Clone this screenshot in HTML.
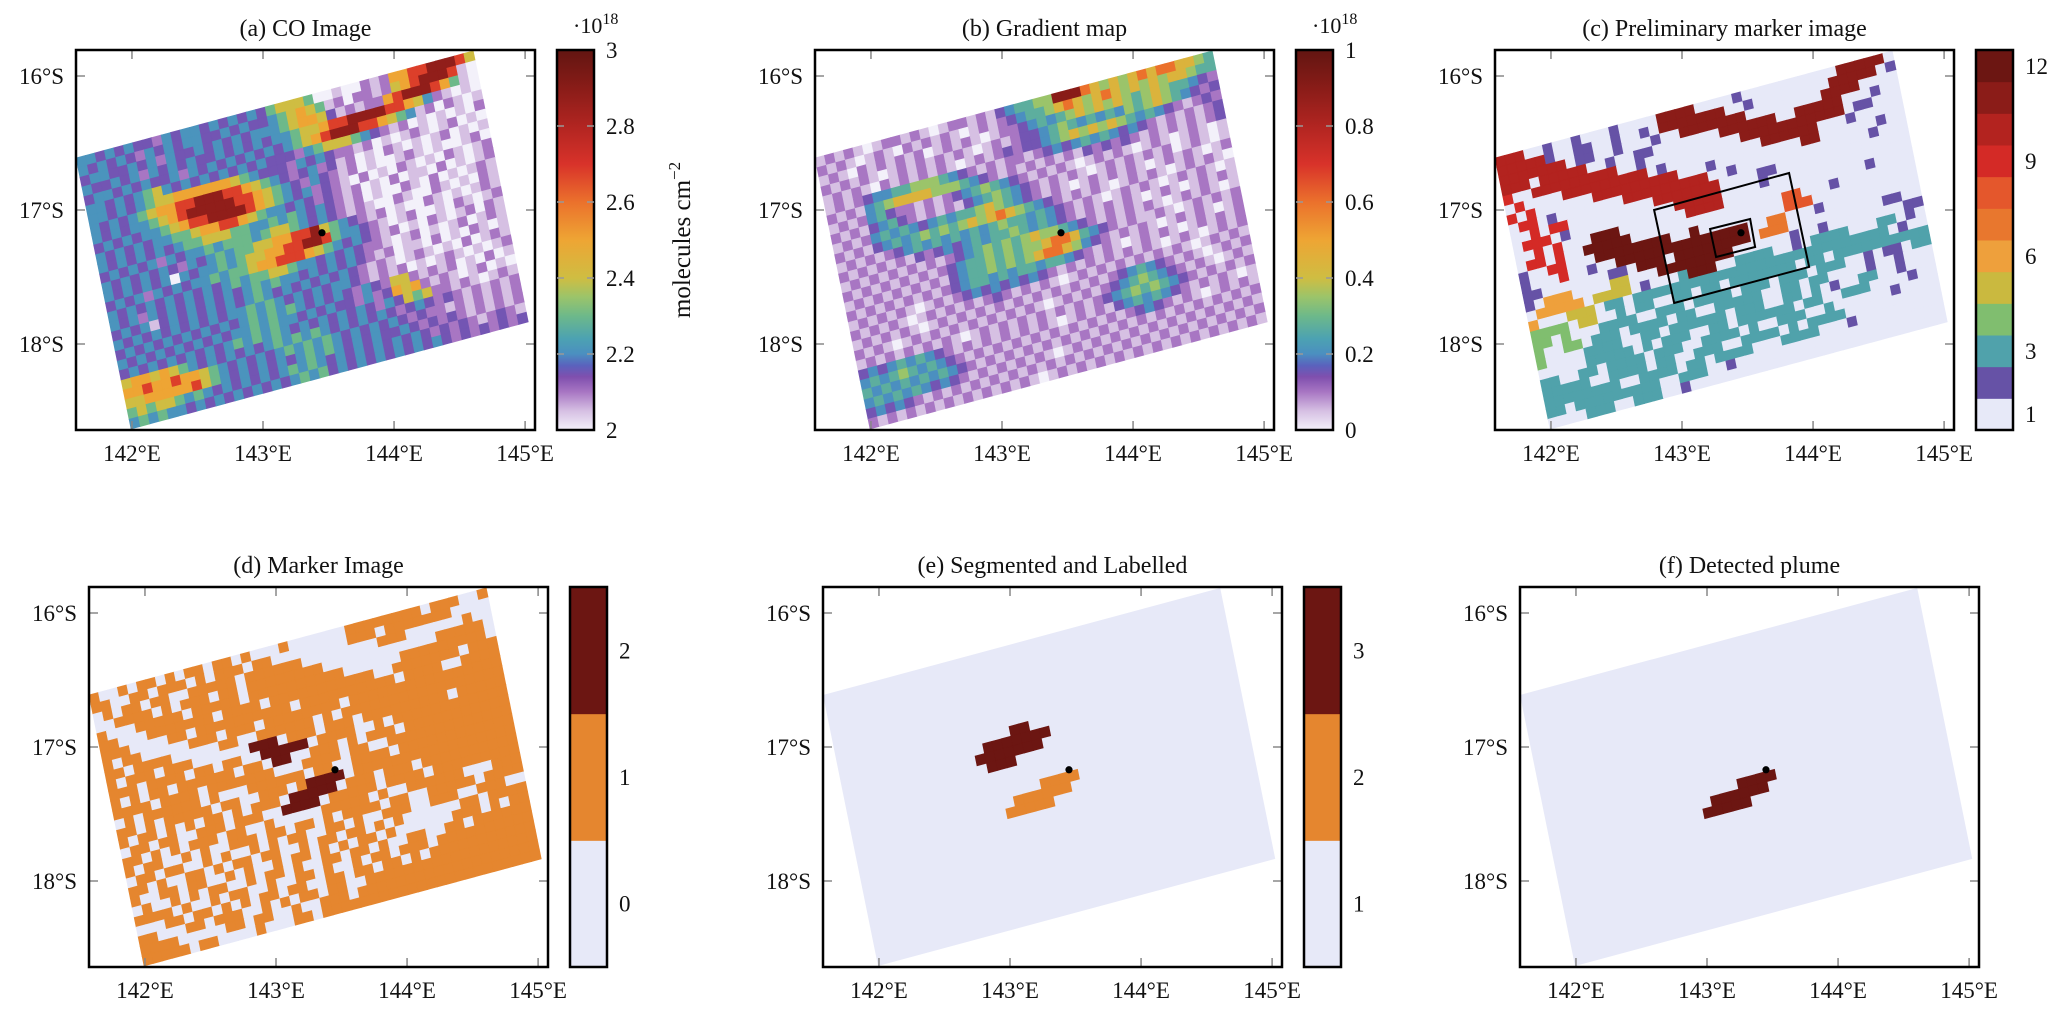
<!DOCTYPE html>
<html>
<head>
<meta charset="utf-8">
<style>
  html, body { margin: 0; padding: 0; background: #ffffff; }
  svg { display: block; }
  text { font-family: "Liberation Serif", serif; fill: #111; }
</style>
</head>
<body>
<svg id="fig" width="2067" height="1013" viewBox="0 0 2067 1013" xmlns="http://www.w3.org/2000/svg"></svg>
<script>
// ---------------- DATA ----------------
const lonTicks = [142, 143, 144, 145];
const latTicks = [16, 17, 18];
const sourceLon = 143.45;
const sourceLat = 17.17;

// (a) CO image: code digit -> column value (x1e18 molecules cm^-2)
const coLevels = [2.0, 2.05, 2.1, 2.15, 2.21, 2.3, 2.4, 2.5, 2.68, 2.88];
const coTicks = [2, 2.2, 2.4, 2.6, 2.8, 3];
const coTickLabels = ["2", "2.2", "2.4", "2.6", "2.8", "3"];
const coRows = [
"44343433243443434343"+"56665"+"0010021"+"27788"+"9998"+"6",
"43434324343443343433"+"456765"+"1202212"+"678"+"9998"+"10",
"34433434243343434344"+"45677"+"6312122"+"7899"+"987"+"510",
"43343424343433434343"+"4456"+"67889"+"9998"+"87"+"6421010",
"34434343342434343434"+"345"+"6789998"+"8765"+"41202101",
"443434"+"56"+"434343434343"+"33245"+"66654"+"321201010102",
"44343"+"4566777"+"7776543"+"3"+"3243432"+"212010121012"+"010",
"4343"+"45677889"+"9988765"+"4"+"323423"+"1201021010120101",
"43434"+"456789"+"99998876"+"5"+"43243"+"21201001210100120",
"343434"+"45678"+"899998"+"765"+"43423"+"21020102101021012",
"4343434"+"4556"+"778876"+"5443"+"43232"+"1201020110201012",
"43434343"+"45566"+"6554"+"4545"+"4343"+"2"+"1201002102010121",
"343434243"+"445455"+"5456"+"6543"+"432"+"1210021002101021",
"4343434324"+"3454"+"556677"+"889"+"65"+"432"+"12010021010121",
"43434340434"+"454"+"5667788"+"998"+"54"+"4321012001021012",
"3434243434"+"4545"+"56778"+"8876"+"54"+"34"+"321201021012021",
"43434343434"+"3454"+"5566"+"54"+"4343"+"43"+"221012010120121",
"4342434343434"+"34545"+"4434343"+"4"+"3212011020102101",
"34341343434"+"343454"+"34343434"+"32"+"121012101020121",
"4343434343434"+"4545"+"4343434"+"432"+"121201012101012",
"343434343434"+"3454545"+"43434"+"3243"+"2"+"66"+"21212010201",
"4343434343434"+"45454"+"434343"+"3242"+"3"+"767"+"2121012010",
"34343434343"+"4545454"+"343434"+"3432"+"43"+"656"+"221210121",
"6776"+"7654"+"3434343"+"454545"+"43434"+"3432"+"343"+"232121212",
"7787"+"7877"+"6543"+"4343454"+"5454"+"3434"+"343232"+"212121212",
"6677"+"7778"+"654"+"3434343"+"4545"+"434343"+"34323"+"232121212",
"5656"+"6545"+"4343434"+"345454"+"34343"+"43434"+"32323212321",
"4545"+"4434"+"3434343"+"434545"+"34343"+"43434"+"34323232323"
];

// (b) Gradient map
const gradLevels = [0, 0.05, 0.1, 0.15, 0.2, 0.27, 0.35, 0.44, 0.6, 0.9];
const gradTicks = [0, 0.2, 0.4, 0.6, 0.8, 1];
const gradTickLabels = ["0", "0.2", "0.4", "0.6", "0.8", "1"];
const gradRows = [
"12121012212101221213"+"45"+"5669998"+"7676787"+"887765",
"21210121021212101212"+"34"+"556787"+"6787676"+"7677655",
"12102121212012121012"+"23"+"45456"+"767676"+"56765"+"5432",
"21212101212121210121"+"23"+"34565"+"45454"+"65676"+"54323",
"12121021212121012123"+"23"+"3456"+"76767"+"654"+"54321232",
"1212"+"3445566"+"65432"+"1212"+"21"+"23434"+"5454"+"3432121"+"2123",
"2121"+"45"+"677776"+"6654"+"3212"+"1212"+"1213"+"2323212"+"1212123",
"1212"+"4"+"5"+"322121"+"2345"+"65"+"43"+"212121"+"012121"+"0121012101",
"21213"+"45"+"3212"+"121"+"3456"+"543"+"2121"+"2101212"+"1212012101",
"12124"+"545"+"43"+"4545"+"5676"+"543"+"2121"+"0121212"+"1012121012",
"2121"+"3454"+"5656"+"56767"+"8765"+"4321"+"2121012"+"1210121210",
"1212"+"123"+"4545"+"4545"+"4565"+"5454"+"3212"+"10121"+"2101212101",
"21212"+"1213"+"2343"+"4545"+"5654"+"543"+"212"+"12121"+"0121012121",
"121212"+"1212"+"1234"+"5656"+"5676"+"654"+"3212"+"121"+"2101212101",
"212121"+"2121"+"2345"+"5656"+"5667"+"887"+"543"+"2121"+"1210121212",
"121212"+"1212"+"1345"+"5656"+"5678"+"876"+"4321"+"212"+"1012121012",
"212121"+"2121"+"2345"+"5454"+"5545"+"543"+"2121"+"012"+"1210121212",
"121212"+"1012"+"1234"+"3434"+"3432"+"121"+"2121"+"212"+"1012101212",
"2121210121"+"212123"+"2121"+"2101"+"2121"+"21212"+"121012121",
"1212121012"+"121212"+"1212"+"1212"+"1212"+"34543"+"212101212",
"2121012121"+"212121"+"2121"+"0121"+"2123"+"45654"+"321210121",
"1212121212"+"101212"+"1212"+"1212"+"1234"+"56565"+"432121212",
"3434"+"545"+"4321"+"21212"+"1212"+"1012"+"1213"+"45454"+"321212101",
"4545"+"654"+"5432"+"12121"+"2121"+"2121"+"2121"+"23432"+"121012121",
"5454"+"545"+"4543"+"21212"+"1212"+"1212"+"1212"+"12121"+"212121212",
"4545"+"454"+"3432"+"12121"+"2121"+"0121"+"2121"+"21212"+"121212121",
"3434"+"321"+"2121"+"21212"+"1212"+"1212"+"1212"+"12121"+"212121212",
"2121"+"212"+"1212"+"12121"+"2101"+"2121"+"2121"+"21212"+"121212121"
];

// (c) Preliminary markers: char -> marker label (1..12)
const prelimKeys = ".ptgyoOrRbBD";
const prelimTickValues = [12, 9, 6, 3, 1];
const prelimRows = [
"bbb"+"..p..p...p...."+"BBBB."+"...p........"+"..BBBBB.",
"bbbbb"+"p..pp..p..p."+"BBBBBBB"+"..p......."+".BBBBB.p",
"bbbbbbb"+".pp..p...p"+"..BBBBBBB"+"........"+"BBBB....",
"bbb.bbbbb"+"..p..pp."+"......BBBBBB"+"..BBBBB"+"...p..",
"R..bbbbbbbbb"+"..p.."+"........"+"BBBBBBBBBBB"+".pp...",
".R....bbbbbbbbb"+".p"+"..........BBBBBB"+"...p.....",
"R.R......bbbbbbbbb"+"...p........."+"BB"+"......p..",
".RR.p.......bbbbbbbbb"+"..p...."+"..........p...",
"..R.RR.........bbbbbbb"+"....pp."+".............",
".RRR.p...........bbbbb"+"....p..."+"............",
"..R.R...DDD"+".......bbbb"+"......"+".........p....",
".RR.R..DDDDD"+"........"+"........rr"+"...p........",
"p..RR...DDDDDDDD"+"..D....."+"....rrr"+"...........",
"p...R..p..DDDDDDDDD"+"DDDDD"+"..OO"+"...p..........",
"pp.......pp.DDD.DDDDDDDD"+".OOO"+"..........pp..",
"p.ooo....yy...DDDDDDDD"+"......"+"p..p........pp",
".ooooo.yyyy.p...tDDD..tt"+"tt..p.tttt"+"...tt.p.",
"o...yyy.tt.ttttttttttttt"+"tttttttttttt"+"tt.p..",
"gggg.yy..t.tt..tt.tt.tt"+"ttttt.tt.tttttttttt",
"gg.g...tttt..ttt.tttt.t"+"tt.ttt.ttt..p.pp.tt",
"g..gg.ttt.tttt.tt..ttttt"+"..tt.tt....p..p...",
"g....tttt..tt.tttttt.tt"+"t..tt.t.p..tt..p...",
".....ttttt.t.ttt..tt.tt"+"tttt.tt..ttt....p..",
"tt..tt.tttt.ttt..tttt.t"+"..ttt..t......p....",
"ttttt..tttt.tt..ttt..tt"+"tt.t.tttt..........",
"tttttttt..tttt.tt.tttt."+"..tttt...p.........",
"tt.ttttttttt..ttt..p..."+"...................",
"....ttt..ttt..p........"+"..................."
];

// (d) Marker image: '.'=0, 'o'=1, 'D'=2
const markerKeys = ".oD";
const markerTickValues = [2, 1, 0];
const markerRows = [
"o..o.oo.o.oo.oo.o"+"...o......"+"oooooooo.ooo..o",
"oo..oo.ooo.o.ooo.oo"+"........"+"ooo.ooooo"+"oo....",
".o.oo.oo..ooooo.oooo"+"oo......"+"..ooo"+"......o..",
"..oooo.o.ooo.oo.oooo"+"oooo...."+"........"+"ooooo.",
"o...ooooo.ooooo.ooooooo"+"ooo..."+"...ooooooooo.",
"oo...ooooooo.oooo.oooo"+"ooooooo..oo"+"ooooo.ooo",
"ooo....oo.oooooooooo.o"+"ooooooooo.o"+"ooo..oooo",
"o.oo.....ooo.ooo.oooo"+"oooo.ooooooo"+"ooooooooo",
"oo.oooo.....oo..oooo"+"oo.o.ooooooo"+"oooooooooo",
"o.ooo.ooo......DDD.oo"+"o.ooo.oooooo"+"ooo.ooooo",
"ooo.oooo.oo.oo..DDDDD."+"oooo..o.oooo"+"oooooooo",
"o.o.oo.oooooo.oo.DD..oo"+"o.o.ooo.oooo"+"ooooooo",
"oooo.oooo.ooooooo...o"+"ooo.oo..ooooo"+"oooooooo",
".o.oooooo.o...oooooo.oo"+"..oooo.oooo"+"oooooooo",
"oo.o.ooooo.oo..ooo.oDDDD."+"ooooooooo"+"oooooooo",
"o.oo.o.o.oo.o.ooo.DDDDD.o"+"oo.ooo.oo"+"oooooooo",
".oo.oo..ooo.ooo..DDDD.oo"+"ooo.oooo.oo"+"ooooooo",
"oo.o.o.ooo.oo..o.....ooo"+"oo.o..oooo"+"oo...ooo",
"o.oo..o.o..ooo.oo.oo.o.o"+"ooo.oo..oo"+"ooo.oooo",
".oo.oo..o.o..o.o.oo..oo."+"o..ooo..oo"+"o..ooo..",
"oo.o..oo.o.oo.oo..o.oo.o"+"o.o.o....."+".oo.oooo",
"o..oo.oo..o.o..o.oo.o.o."+"oo.o......"+"ooo.o.oo",
".o..o.o.oo..o.oo.o..oo.o"+"o.o..oo..o"+"o.oooooo",
"oooo.o..o.oo..o..oo.o..o"+".oo.ooo.oo"+"oooooooo",
"...oo.oo.o.o.oo.oo..oo.o"+"o.oo.o.ooo"+"oooooooo",
"oo...oo.ooo..o.o.oo.oo.."+"oooooooooo"+"oooooooo",
"oooo.....oo.oo..o..ooo.o"+"oooooooooo"+"oooooooo",
"ooooo.oo....o...oo.ooooo"+"oooooooooo"+"oooooooo"
];

// (e) Segmented & labelled: [row, colStart, colEnd, label]; background label = 1
const segmentRuns = [[8,18,19,3],[9,15,21,3],[10,14,20,3],[11,15,17,3],
                     [14,20,23,2],[15,17,22,2],[16,16,20,2]];
const segTickValues = [3, 2, 1];
// (f) Detected plume: [row, colStart, colEnd]
const plumeRuns = [[14,20,23],[15,17,22],[16,16,20]];

// ---------------- GEOMETRY / STYLE ----------------
const GEO = {lon0: 141.573, lat0: 15.806, pxLon: 131.05, pxLat: 134, w: 459, h: 380};
const SW_TL = [141.573, 16.612], SW_TR = [144.604, 15.813], SW_BL = [141.993, 18.634];
const NC = 42, NR = 28;
const cmapStops = [[0,'#f3f1fa'],[0.05,'#d6c0e3'],[0.1,'#a876c3'],[0.14,'#7f4fae'],[0.17,'#5a62bd'],
  [0.2,'#4b8fc0'],[0.24,'#4ca2b2'],[0.3,'#6db98a'],[0.35,'#9bc46a'],[0.4,'#cfbd42'],[0.5,'#eea534'],
  [0.6,'#eb712c'],[0.7,'#d8322a'],[0.8,'#b12521'],[0.9,'#891c18'],[1,'#621511']];
const prelimColors = ['#e7e9f8','#6652a6','#50a2ab','#80be6f','#cab93f','#eea03c','#e8772e','#e4572c','#d42a26','#b3231f','#8b1c18','#6c1612'];
const markerColors = ['#e7e9f8','#e5862f','#6c1612'];
const segColors = ['#e7e9f8','#e5862f','#6c1612'];

const NS = 'http://www.w3.org/2000/svg';
const svg = document.getElementById('fig');
function mk(tag, attrs, parent) {
  const e = document.createElementNS(NS, tag);
  for (const k in attrs) e.setAttribute(k, attrs[k]);
  parent.appendChild(e);
  return e;
}
function hex2rgb(h){return [parseInt(h.slice(1,3),16),parseInt(h.slice(3,5),16),parseInt(h.slice(5,7),16)];}
function cmap(t){
  t=Math.max(0,Math.min(1,t));
  for(let i=1;i<cmapStops.length;i++){
    if(t<=cmapStops[i][0]){
      const a=cmapStops[i-1],b=cmapStops[i];const f=(t-a[0])/(b[0]-a[0]);
      const A=hex2rgb(a[1]),B=hex2rgb(b[1]);
      return 'rgb('+A.map((v,k)=>Math.round(v+(B[k]-v)*f)).join(',')+')';
    }
  }
  return cmapStops[cmapStops.length-1][1];
}
const xS = (p, lon) => p.left + (lon - GEO.lon0) * GEO.pxLon;
const yS = (p, lat) => p.top + (lat - GEO.lat0) * GEO.pxLat;
function swathPt(p, u, v) {
  const lon = SW_TL[0] + u*(SW_TR[0]-SW_TL[0]) + v*(SW_BL[0]-SW_TL[0]);
  const lat = SW_TL[1] + u*(SW_TR[1]-SW_TL[1]) + v*(SW_BL[1]-SW_TL[1]);
  return xS(p, lon).toFixed(2) + ',' + yS(p, lat).toFixed(2);
}
function cellPts(p, r, c) {
  return [swathPt(p,c/NC,r/NR), swathPt(p,(c+1)/NC,r/NR), swathPt(p,(c+1)/NC,(r+1)/NR), swathPt(p,c/NC,(r+1)/NR)].join(' ');
}
function drawCell(g, p, r, c, color) {
  const poly = mk('polygon', {points: cellPts(p, r, c), fill: color, stroke: color, 'stroke-width': 0.7}, g);
  
  
}
function drawRows(g, p, rows, colorOf) {
  rows.forEach((row, r) => {
    for (let c = 0; c < row.length && c < NC; c++) drawCell(g, p, r, c, colorOf(row[c]));
  });
}

const panels = [
  {key:'a', left:76,   top:50,  title:'(a) CO Image', name:'co-image-panel'},
  {key:'b', left:815,  top:50,  title:'(b) Gradient map', name:'gradient-map-panel'},
  {key:'c', left:1495, top:50,  title:'(c) Preliminary marker image', name:'preliminary-marker-panel'},
  {key:'d', left:89,   top:587, title:'(d) Marker Image', name:'marker-image-panel'},
  {key:'e', left:823,  top:587, title:'(e) Segmented and Labelled', name:'segmented-panel'},
  {key:'f', left:1520, top:587, title:'(f) Detected plume', name:'detected-plume-panel'}
];

function drawPanel(p) {
  const g = mk('g', {}, svg);
  
  
  const clipId = 'clip-' + p.key;
  const cp = mk('clipPath', {id: clipId}, g);
  mk('rect', {x: p.left, y: p.top, width: GEO.w, height: GEO.h}, cp);
  const plot = mk('g', {'clip-path': 'url(#' + clipId + ')'}, g);
  
  

  if (p.key === 'a') drawRows(plot, p, coRows, ch => cmap((coLevels[+ch] - 2) / 1));
  if (p.key === 'b') drawRows(plot, p, gradRows, ch => cmap(gradLevels[+ch]));
  if (p.key === 'c') drawRows(plot, p, prelimRows, ch => prelimColors[Math.max(0, prelimKeys.indexOf(ch))]);
  if (p.key === 'd') drawRows(plot, p, markerRows, ch => markerColors[Math.max(0, markerKeys.indexOf(ch))]);
  if (p.key === 'e' || p.key === 'f') {
    const bg = mk('polygon', {points: [swathPt(p,0,0), swathPt(p,1,0), swathPt(p,1,1), swathPt(p,0,1)].join(' '), fill: segColors[0]}, plot);
    
    
    if (p.key === 'e') {
      segmentRuns.forEach(run => { for (let c = run[1]; c <= run[2]; c++) drawCell(plot, p, run[0], c, segColors[run[3]-1]); });
    } else {
      plumeRuns.forEach(run => { for (let c = run[1]; c <= run[2]; c++) drawCell(plot, p, run[0], c, segColors[2]); });
    }
  }
  if (p.key === 'c') {
    const outer = [[142.787,17.0],[143.817,16.724],[143.97,17.425],[142.94,17.694]];
    const inner = [[143.214,17.142],[143.52,17.067],[143.558,17.276],[143.26,17.351]];
    const o = mk('polygon', {points: outer.map(q => xS(p,q[0])+','+yS(p,q[1])).join(' '), fill:'none', stroke:'#000', 'stroke-width':2}, plot);
    
    
    const i = mk('polygon', {points: inner.map(q => xS(p,q[0])+','+yS(p,q[1])).join(' '), fill:'none', stroke:'#000', 'stroke-width':2}, plot);
    
    
  }
  // source dot
  const dot = mk('circle', {cx: xS(p, sourceLon), cy: yS(p, sourceLat), r: 3.6, fill: '#000'}, plot);
  
  

  // ticks
  lonTicks.forEach(lon => {
    const x = xS(p, lon);
    const t1 = mk('line', {x1:x, y1:p.top, x2:x, y2:p.top+9, stroke:'#888', 'stroke-width':1.5}, g);
    
    
    const t2 = mk('line', {x1:x, y1:p.top+GEO.h, x2:x, y2:p.top+GEO.h-9, stroke:'#888', 'stroke-width':1.5}, g);
    
    
    const lb = mk('text', {x:x, y:p.top+GEO.h+31, 'font-size':23, 'text-anchor':'middle'}, g);
    lb.textContent = lon + '°E';
    
    
  });
  latTicks.forEach(lat => {
    const y = yS(p, lat);
    const t1 = mk('line', {x1:p.left, y1:y, x2:p.left+9, y2:y, stroke:'#888', 'stroke-width':1.5}, g);
    
    
    const t2 = mk('line', {x1:p.left+GEO.w, y1:y, x2:p.left+GEO.w-9, y2:y, stroke:'#888', 'stroke-width':1.5}, g);
    
    
    const lb = mk('text', {x:p.left-12, y:y+8, 'font-size':23, 'text-anchor':'end'}, g);
    lb.textContent = lat + '°S';
    
    
  });
  const box = mk('rect', {x:p.left, y:p.top, width:GEO.w, height:GEO.h, fill:'none', stroke:'#000', 'stroke-width':2.5}, g);
  
  
  const tt = mk('text', {x:p.left+GEO.w/2, y:p.top-14, 'font-size':24, 'text-anchor':'middle'}, g);
  tt.textContent = p.title;
  
  
}

function contColorbar(p, ticks, labels, vmin, vmax, gid) {
  const x = p.left + GEO.w + 22, w = 37, top = p.top, h = GEO.h;
  const g = mk('g', {}, svg);
  
  
  const defs = mk('defs', {}, g);
  const lg = mk('linearGradient', {id: gid, x1:0, y1:1, x2:0, y2:0}, defs);
  cmapStops.forEach(s => mk('stop', {offset: s[0], 'stop-color': s[1]}, lg));
  const r = mk('rect', {x:x, y:top, width:w, height:h, fill:'url(#'+gid+')', stroke:'#000', 'stroke-width':2.5}, g);
  
  
  ticks.forEach((v, i) => {
    const y = top + h - (v - vmin) / (vmax - vmin) * h;
    if (i > 0 && i < ticks.length - 1) {
      mk('line', {x1:x, y1:y, x2:x+7, y2:y, stroke:'#999', 'stroke-width':1.5}, g);
      mk('line', {x1:x+w, y1:y, x2:x+w-7, y2:y, stroke:'#999', 'stroke-width':1.5}, g);
    }
    const t = mk('text', {x:x+w+12, y:y+8, 'font-size':23}, g);
    t.textContent = labels[i];
    
    
  });
  const ex = mk('text', {x:x+16, y:top-17, 'font-size':22}, g);
  ex.textContent = '·10';
  
  
  const sup = mk('tspan', {dy:-9, 'font-size':16}, ex);
  sup.textContent = '18';
}

function discColorbar(p, colors, tickValues, firstValue) {
  const x = p.left + GEO.w + 22, w = 37, top = p.top, h = GEO.h;
  const g = mk('g', {}, svg);
  
  
  const n = colors.length, bh = h / n;
  colors.forEach((col, i) => {
    const b = mk('rect', {x:x, y:top + h - (i+1)*bh, width:w, height:bh+0.5, fill:col}, g);
    
    
  });
  const fr = mk('rect', {x:x, y:top, width:w, height:h, fill:'none', stroke:'#000', 'stroke-width':2.5}, g);
  
  
  tickValues.forEach(v => {
    const i = v - firstValue;
    const y = top + h - (i + 0.5) * bh;
    const t = mk('text', {x:x+w+12, y:y+8, 'font-size':23}, g);
    t.textContent = String(v);
    
    
  });
}

panels.forEach(drawPanel);
contColorbar(panels[0], coTicks, coTickLabels, 2, 3, 'grad-co');
contColorbar(panels[1], gradTicks, gradTickLabels, 0, 1, 'grad-gm');
discColorbar(panels[2], prelimColors, prelimTickValues, 1);
discColorbar(panels[3], markerColors, markerTickValues, 0);
discColorbar(panels[4], segColors, segTickValues, 1);

const yl = mk('text', {x:0, y:0, 'font-size':25, 'text-anchor':'middle', transform:'translate(690,240) rotate(-90)'}, svg);
yl.textContent = 'molecules cm';


const ylSup = mk('tspan', {dy:-10, 'font-size':17}, yl);
ylSup.textContent = '−2';
</script>
</body>
</html>
